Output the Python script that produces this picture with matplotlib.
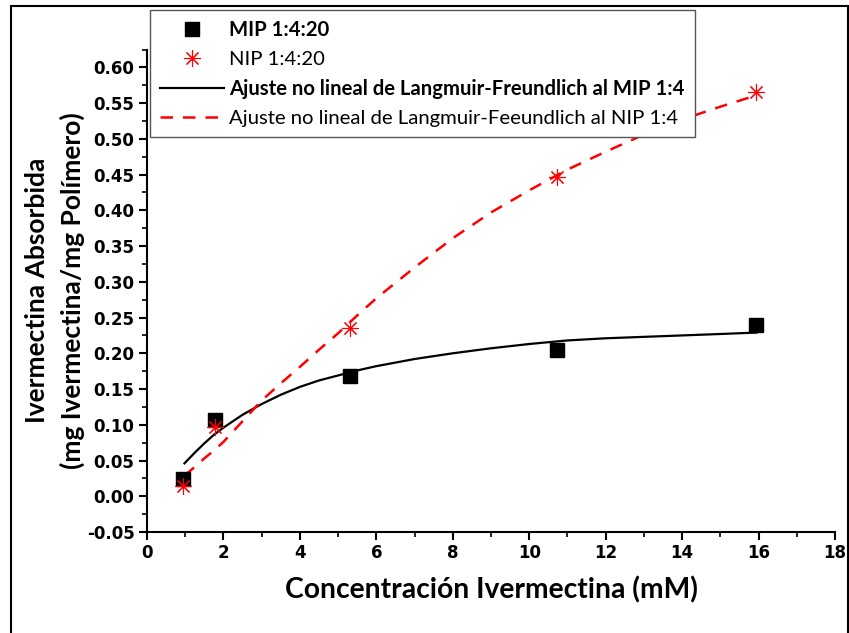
import numpy as np
import matplotlib
matplotlib.use("Agg")
from matplotlib import pyplot as plt
from matplotlib.patches import Rectangle
from matplotlib.ticker import MultipleLocator, FormatStrFormatter

# measured adsorption points
conc = [0.95, 1.78, 5.32, 10.73, 15.93]
mip_q = [0.024, 0.106, 0.168, 0.205, 0.240]
nip_q = [0.015, 0.097, 0.235, 0.446, 0.566]

# Langmuir-Freundlich fit curves, sampled along concentration
fit_conc = [0.98, 1.25, 1.5, 1.75, 2.0, 2.5, 3.0, 3.5, 4.0, 4.5, 5.0, 5.5, 6.0,
            7.0, 8.0, 9.0, 10.0, 11.0, 12.0, 13.0, 14.0, 15.0, 15.95]
mip_fit = [0.046, 0.061, 0.074, 0.086, 0.096, 0.114, 0.129, 0.142, 0.153, 0.162,
           0.169, 0.176, 0.182, 0.192, 0.200, 0.207, 0.213, 0.218, 0.221, 0.223,
           0.225, 0.227, 0.229]
nip_fit = [0.029, 0.041, 0.053, 0.064, 0.076, 0.105, 0.134, 0.158, 0.181, 0.205,
           0.228, 0.253, 0.277, 0.320, 0.361, 0.397, 0.428, 0.457, 0.482, 0.506,
           0.527, 0.545, 0.561]

W, H = 849, 633
fig = plt.figure(figsize=(W / 100, H / 100), dpi=100)
ax = fig.add_axes([147 / W, 1 - 532 / H, 688 / W, (532 - 49.5) / H])

ax.plot(fit_conc, mip_fit, color="black", lw=1.6,
        label="Ajuste no lineal de Langmuir-Freundlich al MIP 1:4")
ax.plot(fit_conc, nip_fit, color="red", lw=1.8, ls=(0, (5, 4)),
        label="Ajuste no lineal de Langmuir-Feeundlich al NIP 1:4")
ax.plot(conc, mip_q, ls="none", marker="s", ms=9.5, color="black",
        label="MIP 1:4:20")
ax.plot(conc, nip_q, ls="none", marker=(8, 2, 0), ms=12, mew=0.8, color="red",
        label="NIP 1:4:20")

ax.set_xlim(0, 18)
ax.set_ylim(-0.05, 0.625)
ax.xaxis.set_major_locator(MultipleLocator(2))
ax.xaxis.set_minor_locator(MultipleLocator(1))
ax.yaxis.set_minor_locator(MultipleLocator(0.025))
ax.yaxis.set_major_formatter(FormatStrFormatter("%.2f"))
ax.set_yticks([v / 100 for v in range(-5, 61, 5)])

for side in ("top", "right"):
    ax.spines[side].set_visible(False)
for side in ("left", "bottom"):
    ax.spines[side].set_linewidth(1.5)
ax.tick_params(which="major", direction="out", length=6, width=1.5, pad=3)
ax.tick_params(which="minor", direction="out", length=3.5, width=1.2)
for lab in ax.get_xticklabels() + ax.get_yticklabels():
    lab.set_fontweight("bold")
    lab.set_fontsize(12)
    lab.set_family("DejaVu Sans")

ax.set_xlabel("Concentración Ivermectina (mM)", family="Lato",
              fontweight="bold", fontsize=20.3, labelpad=10)
ax.set_ylabel("Ivermectina Absorbida\n(mg Ivermectina/mg Polímero)", family="Lato",
              fontweight="bold", fontsize=19, labelpad=1, linespacing=1.5)

handles, labels = ax.get_legend_handles_labels()
order = [2, 3, 0, 1]
leg = ax.legend([handles[i] for i in order], [labels[i] for i in order],
                loc="upper left", bbox_to_anchor=(150 / W, 1 - 9.5 / H),
                bbox_transform=fig.transFigure, frameon=True, fancybox=False,
                edgecolor="#555555", framealpha=1, borderpad=0.5,
                handlelength=3.15, handletextpad=0.25, labelspacing=0.54,
                borderaxespad=0, prop={"family": "Lato", "size": 14.6})
leg.get_frame().set_linewidth(1.0)
for i, txt in enumerate(leg.get_texts()):
    txt.set_fontweight("bold" if i % 2 == 0 else "normal")

# outer frame around the whole figure
fig.patches.append(Rectangle((11 / W, -0.02), (848 - 11) / W, 1.02 - 6 / H,
                             transform=fig.transFigure, fill=False,
                             edgecolor="black", lw=1.5, clip_on=False))

fig.savefig("out.png", dpi=100)
